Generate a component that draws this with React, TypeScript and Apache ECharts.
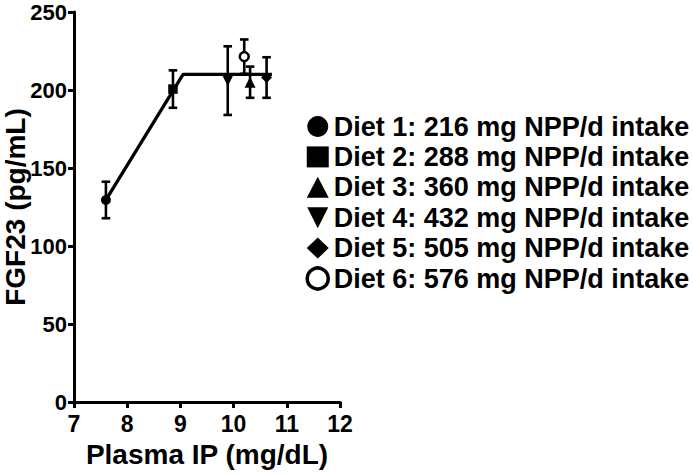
import React, { useEffect, useRef } from "react";
import * as echarts from "echarts";

const dietNames = [
  "Diet 1: 216 mg NPP/d intake",
  "Diet 2: 288 mg NPP/d intake",
  "Diet 3: 360 mg NPP/d intake",
  "Diet 4: 432 mg NPP/d intake",
  "Diet 5: 505 mg NPP/d intake",
  "Diet 6: 576 mg NPP/d intake",
];
const plasmaIP = [7.6, 8.86, 10.31, 9.89, 10.62, 10.2];
const fgf23 = [129.5, 200.6, 205, 206, 208, 221.4];
const fgf23Err = [11.7, 12, 10, 22, 13, 11];
const fitX = [7.6, 9.05, 10.72];
const fitY = [129.5, 210, 210];
const xMin = 7, xMax = 12, xStep = 1;
const yMin = 0, yMax = 250, yStep = 50;

const FONT = "'Liberation Sans', Arial, sans-serif";
const downTri = "path://M0,0L10,0L5,10Z";
const symbols = ["circle", "rect", "triangle", downTri, "diamond", "circle"];
const symbolSizes = [10, 9.5, 11, 11, 11, 9];

export default function App() {
  const ref = useRef<HTMLDivElement>(null);
  useEffect(() => {
    if (!ref.current) return;
    const chart = echarts.init(ref.current, undefined, { renderer: "svg" });
    const scatterSeries = dietNames.map((name, i) => ({
      name,
      type: "scatter",
      symbol: symbols[i],
      symbolSize: symbolSizes[i],
      z: 5,
      itemStyle:
        i === 5
          ? { color: "#fff", borderColor: "#000", borderWidth: 2.5, opacity: 1 }
          : { color: "#000", opacity: 1 },
      data: [[plasmaIP[i], fgf23[i]]],
    }));
    const errData = plasmaIP.map((x, i) => [x, fgf23[i] - fgf23Err[i], fgf23[i] + fgf23Err[i]]);
    const option: any = {
      animation: false,
      backgroundColor: "#fff",
      grid: { left: 74, right: 353, top: 12, bottom: 73, containLabel: false, outerBoundsMode: "none" },
      xAxis: {
        type: "value",
        min: xMin,
        max: xMax,
        interval: xStep,
        name: "Plasma IP (mg/dL)",
        nameLocation: "middle",
        nameGap: 38,
        nameMoveOverlap: false,
        nameTextStyle: { fontFamily: FONT, fontWeight: "bold", fontSize: 28, color: "#000" },
        axisLine: { show: true, onZero: false, lineStyle: { color: "#000", width: 3 } },
        axisTick: { show: true, length: 6, lineStyle: { color: "#000", width: 3 } },
        axisLabel: { fontFamily: FONT, fontWeight: "bold", fontSize: 23, color: "#000", margin: 10 },
        splitLine: { show: false },
      },
      yAxis: {
        type: "value",
        min: yMin,
        max: yMax,
        interval: yStep,
        name: "FGF23 (pg/mL)",
        nameLocation: "middle",
        nameGap: 45,
        nameMoveOverlap: false,
        nameTextStyle: { fontFamily: FONT, fontWeight: "bold", fontSize: 28, color: "#000" },
        axisLine: { show: true, onZero: false, lineStyle: { color: "#000", width: 3 } },
        axisTick: { show: true, length: 6, lineStyle: { color: "#000", width: 3 } },
        axisLabel: { fontFamily: FONT, fontWeight: "bold", fontSize: 22, color: "#000", margin: 7 },
        splitLine: { show: false },
      },
      legend: {
        orient: "vertical",
        left: 300.5,
        top: 108,
        itemWidth: 22,
        itemHeight: 21,
        itemGap: 3.4,
        textStyle: { fontFamily: FONT, fontWeight: "bold", fontSize: 27, color: "#000" },
        data: dietNames.map((name, i) => ({
          name,
          icon: symbols[i],
          itemStyle:
            i === 5
              ? { color: "#fff", borderColor: "#000", borderWidth: 3.5 }
              : { color: "#000", borderWidth: 0 },
        })),
      },
      series: [
        {
          type: "line",
          data: fitX.map((x, i) => [x, fitY[i]]),
          symbol: "none",
          lineStyle: { color: "#000", width: 3.3 },
          z: 2,
          silent: true,
        },
        {
          type: "custom",
          z: 3,
          data: errData,
          encode: { x: 0, y: [1, 2] },
          renderItem: (params: any, api: any) => {
            const x = api.value(0);
            const lo = api.value(1);
            const hi = api.value(2);
            const top = api.coord([x, hi]);
            const bot = api.coord([x, lo]);
            const hw = 4.3;
            const st = { stroke: "#000", lineWidth: 2.6 };
            return {
              type: "group",
              children: [
                { type: "line", shape: { x1: top[0], y1: top[1], x2: bot[0], y2: bot[1] }, style: st },
                { type: "line", shape: { x1: top[0] - hw, y1: top[1], x2: top[0] + hw, y2: top[1] }, style: st },
                { type: "line", shape: { x1: bot[0] - hw, y1: bot[1], x2: bot[0] + hw, y2: bot[1] }, style: st },
              ],
            };
          },
        },
        ...scatterSeries,
      ],
    };
    chart.setOption(option);
    return () => chart.dispose();
  }, []);
  return <div ref={ref} style={{ width: 693, height: 475, position: "absolute", left: 0, top: 0 }} />;
}
